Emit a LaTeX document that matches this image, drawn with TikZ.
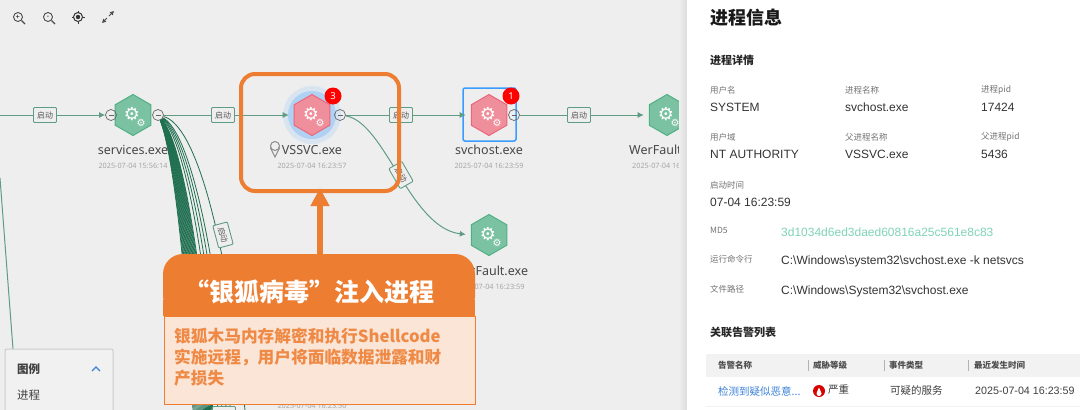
\documentclass[tikz,border=0pt]{standalone}
\usepackage{fontspec}
\setmainfont{Noto Sans}
\newfontfamily\cjk{Noto Sans CJK SC}
\newfontfamily\arial{Liberation Sans}
\newfontfamily\djv{DejaVu Sans}
\usetikzlibrary{shapes.geometric,arrows.meta}
\definecolor{canvas}{HTML}{EEEEEE}
\definecolor{linkgreen}{HTML}{5F9C84}
\definecolor{bundlegreen}{HTML}{1F6F50}
\definecolor{hexgreen}{HTML}{7BC2A2}
\definecolor{hexgreenb}{HTML}{4FB084}
\definecolor{hexred}{HTML}{F08F9C}
\definecolor{hexredb}{HTML}{E8677A}
\definecolor{callout}{HTML}{ED7D31}
\definecolor{calloutbg}{HTML}{FBE5D6}
\definecolor{tealtext}{HTML}{7FD3B8}
\definecolor{alarmblue}{HTML}{3B82D8}
\definecolor{pickblue}{HTML}{3B9CFF}
\tikzset{hexnode/.style = {regular polygon, regular polygon sides=6, shape border rotate=30,
                           minimum size=41pt, inner sep=0pt, line width=1pt},
         okhex/.style = {hexnode, fill=hexgreen, draw=hexgreenb},
         badhex/.style = {hexnode, fill=hexred, draw=hexredb},
         biggear/.style = {text=white, inner sep=0pt, font=\djv\fontsize{18}{18}\selectfont},
         smallgear/.style = {text=white, inner sep=0pt, font=\djv\fontsize{10}{10}\selectfont},
         port/.style = {circle, draw=black!60, line width=0.7pt, minimum size=11pt, inner sep=0pt},
         edgetag/.style = {draw=linkgreen, fill=canvas, line width=0.9pt, rounded corners=1pt,
                           font=\cjk\fontsize{8}{8}\selectfont, text=black!65, inner sep=2pt, minimum width=23pt, minimum height=15pt},
         link/.style = {linkgreen, line width=1pt, shorten >=5pt, -{Latex[length=6pt,width=6pt]}},
         fan/.style = {bundlegreen, line width=0.8pt},
         exename/.style = {font=\fontsize{12.5}{12.5}\selectfont, text=black!72},
         stamp/.style = {font=\fontsize{7.3}{7.3}\selectfont, text=black!35},
         badge/.style = {circle, fill=red, text=white, inner sep=0pt, minimum size=17pt, font=\bfseries\fontsize{9.5}{9.5}\selectfont},
         fieldname/.style = {anchor=west, inner sep=0pt, font=\cjk\fontsize{8.5}{8.5}\selectfont, text=black!55},
         fieldval/.style = {anchor=west, inner sep=0pt, font=\arial\fontsize{12}{12}\selectfont, text=black!80},
         paneltitle/.style = {anchor=west, inner sep=0pt, font=\cjk\bfseries\fontsize{11}{11}\selectfont, text=black!85},
         tablehead/.style = {anchor=west, inner sep=0pt, font=\cjk\bfseries\fontsize{8.5}{8.5}\selectfont, text=black!70},
         rowtext/.style = {anchor=west, inner sep=0pt, font=\cjk\fontsize{10.5}{10.5}\selectfont, text=black!75}
        }

\begin{document}
\begin{tikzpicture}[x=1pt, y=-1pt]
  \useasboundingbox (0, 0) rectangle (1080, 410);
  \fill[canvas] (0, 0) rectangle (1080, 410);

  % tool bar
  \foreach \x/\sym/\nm in {18/+/zoomin, 48/-/zoomout} {
    \node[circle, draw=black!70, line width=0.9pt, minimum size=9pt, inner sep=0pt, font=\fontsize{7}{7}\selectfont] (\nm) at (\x, 17) {\sym};
    \draw[black!70, line width=1.1pt] (\nm.south east) -- +(3.5, 3.5);
  };
  \node[circle, draw=black!80, line width=1pt, minimum size=9pt, inner sep=0pt] (target) at (78, 17) {};
  \fill[black!80] (target) circle (2.2);
  \foreach \a in {0, 90, 180, 270} {\draw[black!80, line width=1pt] (target) ++(\a:4.5) -- ++(\a:2);};
  \coordinate (full) at (108, 17);
  \draw[black!70, line width=0.9pt, -{Triangle[length=4pt,width=4pt]}] (full) ++(1, -1) -- +(5, -5);
  \draw[black!70, line width=0.9pt, -{Triangle[length=4pt,width=4pt]}] (full) ++(-1, 1) -- +(-5, 5);

  % glow under the selected process
  \coordinate (glow) at (312, 115);
  \fill[pickblue!12!canvas] (glow) circle (29);
  \fill[pickblue!35!canvas] (glow) circle (24);

  % nodes
  \node[okhex] (services) at (133, 115) {};
  \node[badhex] (vssvc) at (312, 115) {};
  \node[badhex] (svchost) at (489, 115) {};
  \node[okhex] (wera) at (667, 115) {};
  \node[okhex] (werb) at (489, 235) {};
  \foreach \h in {services, vssvc, svchost, wera, werb} {
    \node[biggear] (\h big) at ([shift={(-1, -1)}]\h.center) {⚙};
    \node[smallgear] (\h small) at ([shift={(8, 8)}]\h.center) {⚙};
  };
  \draw[pickblue, line width=1.5pt, rounded corners=2pt] (463, 88) rectangle (516, 141);

  % ports
  \foreach \nm/\x in {pa/111, pb/158, pc/340, pd/514} {
    \node[port] (\nm) at (\x, 115) {\textcolor{black!60}{\rule{5pt}{0.5pt}}};
  };
  \coordinate (west) at (0, 115);
  \coordinate (westb) at (0, 178);
  \coordinate (leg) at (13, 349);

  % links
  \draw[link, shorten >=0pt] (west) -- (pa);
  \draw[link] (pb) -- (vssvc);
  \draw[link] (pc) -- (svchost);
  \draw[link] (pd) -- (wera);
  \draw[link] (pc) .. controls (385, 122) and (410, 228) .. (werb.west);
  \draw[linkgreen, line width=1pt] (westb) -- (leg);

  % fan from services.exe
  \foreach \t in {0, 0.02, ..., 0.4, 0.48, 0.56, 0.64, 0.72, 1} {
    \coordinate (fanend) at ({193 + 52*\t}, 410);
    \draw[fan] (pb) .. controls ({172 + 23*\t}, {150 - 25*\t}) and ({186 + 39*\t}, {260 - 30*\t}) .. (fanend);
  };

  % edge tags
  \foreach \nm/\x in {taga/45, tagb/223, tagc/401, tagd/579} {
    \node[edgetag] (\nm) at (\x, 115) {启动};
  };
  \node[edgetag, rotate=-75] (tage) at (223, 235) {启动};
  \node[edgetag, rotate=-60] (tagf) at (401, 175) {启动};
  \node[edgetag] (tagg) at (224, 414) {};

  % labels
  \node[exename] (servicesname) at (133, 150) {services.exe};
  \node[stamp] (servicestime) at (133, 166) {2025-07-04 15:56:14};
  \node[exename] (vssvcname) at (312, 150) {VSSVC.exe};
  \node[stamp] (vssvctime) at (312, 166) {2025-07-04 16:23:57};
  \node[exename] (svchostname) at (489, 150) {svchost.exe};
  \node[stamp] (svchosttime) at (489, 166) {2025-07-04 16:23:59};
  \node[exename, anchor=west, inner sep=0pt] (weraname) at (629, 150) {WerFault.exe};
  \node[stamp, anchor=west, inner sep=0pt] (weratime) at (632, 166) {2025-07-04 16:23:59};
  \node[exename] (werbname) at (490, 271) {WerFault.exe};
  \node[stamp] (werbtime) at (490, 287) {2025-07-04 16:23:59};
  \node[stamp] (lowtime) at (312, 405.5) {2025-07-04 16:23:50};

  % location pin
  \node[circle, draw=black!45, fill=canvas, line width=1pt, minimum size=9pt, inner sep=0pt] (pin) at (275, 146) {};
  \draw[black!45, line width=1pt] (pin.200) -- (275, 157) -- (pin.-20);

  % badges
  \node[badge] (badgea) at (333, 96) {3};
  \node[badge] (badgeb) at (511, 96) {1};

  % highlight
  \node[draw=callout, line width=4pt, rounded corners=14pt, minimum width=158pt, minimum height=117pt] (focus) at (320, 132.5) {};
  \coordinate (headtip) at (320, 188);

  % call-out
  \draw[callout, fill=calloutbg, line width=1pt] (164, 316) rectangle (475, 404);
  \fill[callout, rounded corners=20pt] (163, 316) -- (163, 254) -- (475, 254) -- (475, 316) -- cycle;
  \fill[callout] (163, 300) rectangle (475, 316);
  \coordinate (boxtop) at (320, 254);
  \draw[callout, line width=6pt, -{Triangle[length=18pt,width=18pt]}] (boxtop) -- (headtip);
  \node[font=\cjk\bfseries\fontsize{25}{25}\selectfont, text=white] (boxtitle) at (309, 292) {“银狐病毒”注入进程};
  \node[anchor=north west, align=left, text width=300pt, font=\cjk\bfseries\fontsize{16.7}{21}\selectfont, text=callout!90!white, inner sep=0pt] (boxtext) at (174, 328) {银狐木马内存解密和执行Shellcode\\实施远程，用户将面临数据泄露和财\\产损失};

  % legend
  \draw[black!20, fill=canvas!80!white, line width=1pt, rounded corners=2pt] (5, 349) rectangle (113, 415);
  \node[anchor=west, inner sep=0pt, font=\cjk\bfseries\fontsize{11.5}{11.5}\selectfont, text=black!75] (legendtitle) at (17, 369) {图例};
  \node[anchor=west, inner sep=0pt, font=\cjk\fontsize{11.5}{11.5}\selectfont, text=black!75] (legenditem) at (17, 395) {进程};
  \coordinate (chev) at (96, 369);
  \draw[alarmblue, line width=1.2pt] (chev) ++(-4, 2) -- ++(4, -4) -- ++(4, 4);

  % panel
  \shade[left color=canvas, right color=black!14] (679, 0) rectangle (687, 410);
  \fill[white] (687, 0) rectangle (1080, 410);
  \node[anchor=west, inner sep=0pt, font=\cjk\bfseries\fontsize{18}{18}\selectfont, text=black!90] (title) at (710, 18) {进程信息};
  \node[paneltitle] (detail) at (710, 60) {进程详情};
  \foreach \nm/\x/\y/\k/\v in {user/710/90/用户名/SYSTEM, proc/845/90/进程名称/svchost.exe, pid/981/90/进程pid/17424,
                              dom/710/137/用户域/NT AUTHORITY, par/845/137/父进程名称/VSSVC.exe, ppid/981/137/父进程pid/5436,
                              start/710/185/启动时间/07-04 16:23:59} {
    \node[fieldname] (\nm key) at (\x, \y) {\k};
    \node[fieldval] (\nm val) at (\x, \y + 17) {\v};
  };
  \foreach \nm/\y/\k/\v in {cmd/261/运行命令行/{C:\textbackslash Windows\textbackslash system32\textbackslash svchost.exe -k netsvcs},
                           path/291/文件路径/{C:\textbackslash Windows\textbackslash System32\textbackslash svchost.exe}} {
    \node[fieldname] (\nm key) at (710, \y - 2) {\k};
    \node[fieldval] (\nm val) at (781, \y) {\v};
  };
  \node[fieldname] (md5key) at (710, 230) {MD5};
  \node[fieldval, text=tealtext] (md5val) at (781, 232) {3d1034d6ed3daed60816a25c561e8c83};
  \node[paneltitle] (alarms) at (710, 332) {关联告警列表};

  % table
  \fill[black!5] (706, 354) rectangle (1080, 377);
  \draw[black!5, line width=1pt] (706, 406) -- (1080, 406);
  \foreach \x/\t in {718/告警名称, 813/威胁等级, 889/事件类型, 974/最近发生时间} {
    \node[tablehead] at (\x, 365) {\t};
  };
  \foreach \x in {808, 884, 968} {\draw[black!30, line width=0.8pt] (\x, 360) -- (\x, 371);};
  \node[rowtext, text=alarmblue] (alarm) at (718, 391) {检测到疑似恶意...};
  \node[circle, fill=red!85!black, minimum size=12pt, inner sep=0pt] (flame) at (819, 391) {};
  \fill[white] (flame) ++(0, 2.5) circle (2.5) ++(-2.2, -1) -- ++(2.2, -5) -- ++(2.2, 5) -- cycle;
  \node[rowtext] (level) at (828, 390) {严重};
  \node[rowtext] (kind) at (890, 391) {可疑的服务};
  \node[rowtext, font=\arial\fontsize{10.7}{10.7}\selectfont] (when) at (975, 391) {2025-07-04 16:23:59};
\end{tikzpicture}
\end{document}
